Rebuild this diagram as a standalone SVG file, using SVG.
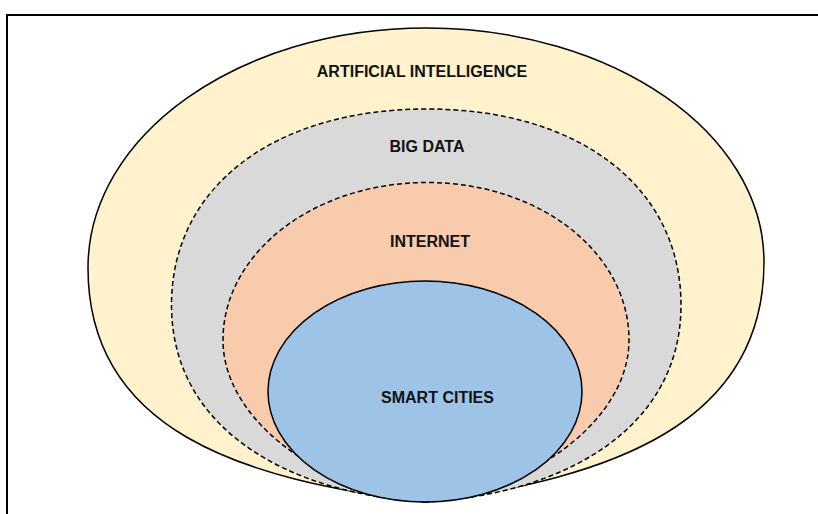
<svg xmlns="http://www.w3.org/2000/svg" width="818" height="514" viewBox="0 0 818 514">
  <style>
    .solid { stroke: #000; stroke-width: 1.5; }
    .dash { stroke: #000; stroke-width: 1.5; stroke-dasharray: 5 3; }
    .lbl { font-family: "Liberation Sans", Arial, sans-serif; font-weight: bold; font-size: 16px; fill: #111; text-anchor: middle; }
  </style>
  <rect x="0" y="0" width="818" height="514" fill="#fff"/>
  <path d="M7 514 V15 H818" fill="none" stroke="#000" stroke-width="2"/>
  <g id="ai">
    <path class="solid" fill="#FFF2CC" d="M426 502 C240 480 88 430 88 268 C88 135 239 28 426 28 C613 28 764 133 764 262 C764 424 612 478 426 502 Z"/>
    <text class="lbl" x="422" y="77">ARTIFICIAL INTELLIGENCE</text>
  </g>
  <g id="bigdata">
    <path class="dash" fill="#D9D9D9" d="M426 502 C290 494 171.5 430 171.5 305 C171.5 187 274 109 427 109 C579 109 681 187 681 305 C681 430 562 494 426 502 Z"/>
    <text class="lbl" x="427" y="152">BIG DATA</text>
  </g>
  <g id="internet">
    <path class="dash" fill="#F8CBAD" d="M426 502 C320 490 223 420 223 340 C223 253 314 182.5 427 182.5 C540 182.5 629 253 629 340 C629 420 532 490 426 502 Z"/>
    <text class="lbl" x="430" y="247">INTERNET</text>
  </g>
  <g id="smartcities">
    <ellipse class="solid" fill="#9DC3E6" cx="425" cy="391.5" rx="157" ry="110.5"/>
    <text class="lbl" x="437.5" y="403">SMART CITIES</text>
  </g>
  <g id="connectors"/>
</svg>
